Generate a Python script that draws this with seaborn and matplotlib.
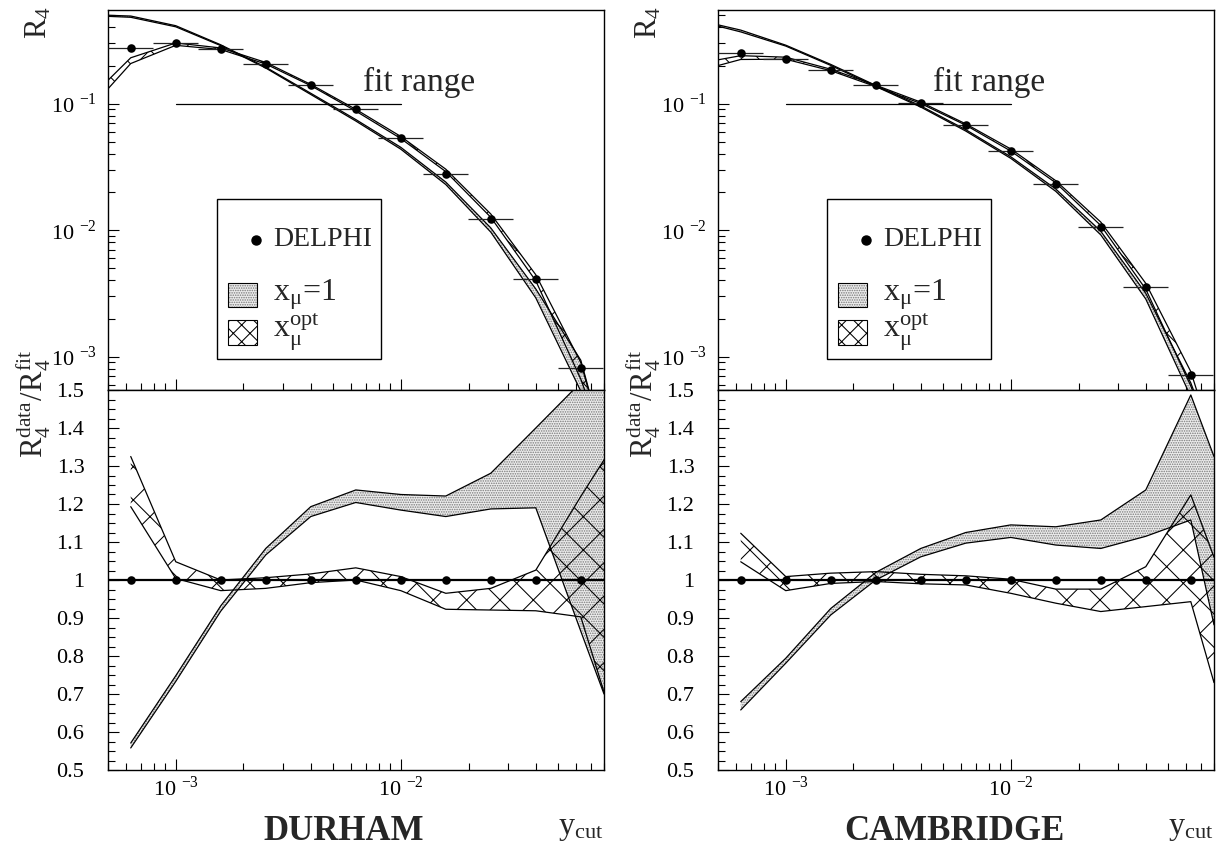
import numpy as np
import matplotlib
matplotlib.use('Agg')
import matplotlib.pyplot as plt
import matplotlib.ticker as mticker
from matplotlib.patches import Rectangle
import seaborn as sns

sns.set_theme(style='ticks')
plt.rcParams['font.family'] = ['Liberation Serif', 'DejaVu Serif']
plt.rcParams['mathtext.fontset'] = 'stix'
plt.rcParams['hatch.linewidth'] = 0.75

# y_cut bin centres and bin edges (shared by both algorithms)
ycut = [6.31e-4, 1.0e-3, 1.585e-3, 2.512e-3, 3.981e-3, 6.31e-3,
        1.0e-2, 1.585e-2, 2.512e-2, 3.981e-2, 6.31e-2]
bin_lo = [5.01e-4, 7.94e-4, 1.259e-3, 1.995e-3, 3.162e-3, 5.012e-3,
          7.943e-3, 1.259e-2, 1.995e-2, 3.162e-2, 5.012e-2]
bin_hi = [7.94e-4, 1.259e-3, 1.995e-3, 3.162e-3, 5.012e-3, 7.943e-3,
          1.259e-2, 1.995e-2, 3.162e-2, 5.012e-2, 7.943e-2]
x_left = 5.0e-4
x_right = 8.0e-2
ratio_data = [1.0] * 11

# DURHAM: measured R4 and ratio bands (11 bins + right frame edge)
dur_r4 = [0.275, 0.303, 0.268, 0.207, 0.141, 0.0902, 0.0535, 0.0280, 0.01236, 0.00408, 0.00081]
dur_mu1_lo = [0.558, 0.733, 0.918, 1.066, 1.167, 1.204, 1.184, 1.167, 1.187, 1.19, 0.865, 0.70]
dur_mu1_hi = [0.571, 0.748, 0.932, 1.083, 1.193, 1.237, 1.225, 1.221, 1.281, 1.40, 1.52, 1.60]
dur_opt_lo = [1.193, 1.004, 0.972, 0.978, 0.993, 1.0, 0.972, 0.923, 0.921, 0.919, 0.903, 0.705]
dur_opt_hi = [1.325, 1.048, 1.0, 1.006, 1.016, 1.032, 1.009, 0.965, 0.978, 1.026, 1.22, 1.316]
dur_mu1_left = [0.49, 0.50]
dur_opt_left = [0.131, 0.153]

# CAMBRIDGE
cam_r4 = [0.251, 0.2265, 0.1855, 0.1394, 0.1018, 0.0683, 0.0423, 0.0231, 0.01062, 0.00353, 0.000718]
cam_mu1_lo = [0.658, 0.781, 0.908, 1.0, 1.061, 1.097, 1.112, 1.092, 1.083, 1.115, 1.158, 0.882]
cam_mu1_hi = [0.680, 0.794, 0.925, 1.02, 1.083, 1.125, 1.145, 1.140, 1.158, 1.237, 1.487, 1.325]
cam_opt_lo = [1.048, 0.972, 0.991, 0.996, 0.99, 0.987, 0.965, 0.939, 0.917, 0.930, 0.943, 0.73]
cam_opt_hi = [1.123, 1.009, 1.018, 1.022, 1.015, 1.011, 1.002, 0.976, 0.976, 1.035, 1.224, 1.06]
cam_mu1_left = [0.41, 0.42]
cam_opt_left = [0.200, 0.222]

fit_below = 2.0e-4  # fit curves leave the frame below the bottom edge

panels = [
    ('DURHAM', 108, 6.8e-3, dur_r4, dur_mu1_lo, dur_mu1_hi, dur_opt_lo, dur_opt_hi, dur_mu1_left, dur_opt_left),
    ('CAMBRIDGE', 718, 4.5e-3, cam_r4, cam_mu1_lo, cam_mu1_hi, cam_opt_lo, cam_opt_hi, cam_mu1_left, cam_opt_left),
]

W, H = 1225, 848
fig = plt.figure(figsize=(W / 100, H / 100), dpi=100)

DOTS = '.......'
CROSS = 'x'


def band(ax, x, lo, hi, kind, z):
    if kind == 'dots':
        ax.fill_between(x, lo, hi, facecolor='#ececec', edgecolor='#7a7a7a', hatch=DOTS, lw=0, zorder=z)
    else:
        ax.fill_between(x, lo, hi, facecolor='none', edgecolor='black', hatch=CROSS, lw=0, zorder=z)
    ax.plot(x, lo, color='black', lw=0.9, zorder=z + 0.1)
    ax.plot(x, hi, color='black', lw=0.9, zorder=z + 0.1)


def style_axis(ax):
    for s in ax.spines.values():
        s.set_linewidth(1.0)
        s.set_color('black')
    ax.tick_params(which='both', direction='in', top=False, right=False, colors='black', labelsize=16)
    ax.tick_params(which='major', length=8, width=0.8)
    ax.tick_params(which='minor', length=5, width=0.8)


for name, left, fit_x, r4, m1lo, m1hi, oplo, ophi, m1left, opleft in panels:
    r4 = np.array(r4)
    ax_t = fig.add_axes([left / W, 1 - 390 / H, 496 / W, 380 / H])
    ax_b = fig.add_axes([left / W, 1 - 770 / H, 496 / W, 380 / H])

    # ---- top: R4 with fit curves ----
    x_fit = [x_left] + ycut + [x_right]
    mu1_fit_lo = [m1left[0]] + list(r4 / np.array(m1hi[:11])) + [fit_below]
    mu1_fit_hi = [m1left[1]] + list(r4 / np.array(m1lo[:11])) + [fit_below]
    opt_fit_lo = [opleft[0]] + list(r4 / np.array(ophi[:11])) + [fit_below]
    opt_fit_hi = [opleft[1]] + list(r4 / np.array(oplo[:11])) + [fit_below]
    band(ax_t, x_fit, mu1_fit_lo, mu1_fit_hi, 'dots', 1)
    band(ax_t, x_fit, opt_fit_lo, opt_fit_hi, 'cross', 2)

    xerr = [np.array(ycut) - np.array(bin_lo), np.array(bin_hi) - np.array(ycut)]
    ax_t.errorbar(ycut, r4, xerr=xerr, fmt='none', ecolor='#222222', elinewidth=0.9, capsize=0, zorder=3)
    sns.scatterplot(x=ycut, y=r4, ax=ax_t, color='black', s=38, linewidth=0, zorder=4, legend=False)

    ax_t.plot([1e-3, 1e-2], [0.1, 0.1], color='black', lw=0.9, zorder=3)
    ax_t.text(fit_x, 0.125, 'fit range', fontsize=24, va='baseline', ha='left', zorder=3)

    ax_t.set_xscale('log')
    ax_t.set_yscale('log')
    ax_t.set_xlim(x_left, x_right)
    ax_t.set_ylim(5.45e-4, 0.55)
    ax_t.set_yticks([1e-3, 1e-2, 1e-1])
    ax_t.set_yticklabels(['10 $^{\\mathregular{-3}}$', '10 $^{\\mathregular{-2}}$', '10 $^{\\mathregular{-1}}$'])
    ax_t.yaxis.set_minor_locator(mticker.LogLocator(base=10, subs=np.arange(2, 10), numticks=20))
    ax_t.yaxis.set_minor_formatter(mticker.NullFormatter())
    ax_t.set_xticks([1e-3, 1e-2])
    ax_t.xaxis.set_minor_locator(mticker.LogLocator(base=10, subs=np.arange(2, 10), numticks=20))
    ax_t.xaxis.set_major_formatter(mticker.NullFormatter())
    ax_t.xaxis.set_minor_formatter(mticker.NullFormatter())
    style_axis(ax_t)
    ax_t.tick_params(axis='y', pad=8)
    ax_t.set_ylabel('R$_{\\mathregular{4}}$', fontsize=22, loc='top')
    ax_t.yaxis.set_label_coords(-0.11, 1.01)

    # legend box
    tr = ax_t.transAxes
    ax_t.add_patch(Rectangle((0.219, 0.081), 0.331, 0.421, transform=tr, facecolor='white',
                             edgecolor='black', lw=1.0, zorder=6))
    ax_t.plot([0.298], [0.395], 'o', color='black', ms=6.5, transform=tr, zorder=7)
    ax_t.text(0.333, 0.395, 'DELPHI', transform=tr, va='center', ha='left', fontsize=20, zorder=7)
    ax_t.add_patch(Rectangle((0.242, 0.218), 0.058, 0.064, transform=tr, facecolor='#ececec',
                             edgecolor='#7a7a7a', hatch=DOTS, lw=0, zorder=7))
    ax_t.add_patch(Rectangle((0.242, 0.218), 0.058, 0.064, transform=tr, fill=False,
                             edgecolor='black', lw=0.8, zorder=7))
    ax_t.add_patch(Rectangle((0.242, 0.118), 0.058, 0.066, transform=tr, facecolor='white',
                             edgecolor='black', hatch='xx', lw=0.8, zorder=7))
    ax_t.text(0.333, 0.25, 'x$_{\\mathregular{μ}}$=1', transform=tr, va='center', ha='left', fontsize=23, zorder=7)
    ax_t.text(0.333, 0.153, 'x$_{\\mathregular{μ}}^{\\mathregular{opt}}$', transform=tr, va='center',
              ha='left', fontsize=23, zorder=7)

    # ---- bottom: ratio data / fit ----
    x_band = ycut + [x_right]
    band(ax_b, x_band, m1lo, m1hi, 'dots', 1)
    band(ax_b, x_band, oplo, ophi, 'cross', 2)
    ax_b.axhline(1.0, color='black', lw=1.6, zorder=3)
    sns.scatterplot(x=ycut, y=ratio_data, ax=ax_b, color='black', s=38, linewidth=0, zorder=4, legend=False)

    ax_b.set_xscale('log')
    ax_b.set_xlim(x_left, x_right)
    ax_b.set_ylim(0.5, 1.5)
    yt = np.round(np.arange(0.5, 1.51, 0.1), 1)
    ax_b.set_yticks(yt)
    ax_b.set_yticklabels([f'{v:g}' for v in yt])
    ax_b.yaxis.set_minor_locator(mticker.MultipleLocator(0.025))
    ax_b.set_xticks([1e-3, 1e-2])
    ax_b.set_xticklabels(['10 $^{\\mathregular{-3}}$', '10 $^{\\mathregular{-2}}$'])
    ax_b.xaxis.set_minor_locator(mticker.LogLocator(base=10, subs=np.arange(2, 10), numticks=20))
    ax_b.xaxis.set_minor_formatter(mticker.NullFormatter())
    style_axis(ax_b)
    ax_b.tick_params(axis='y', pad=17)
    ax_b.tick_params(axis='x', pad=5)
    ax_b.set_ylabel('R$_{\\mathregular{4}}^{\\mathregular{data}}$/R$_{\\mathregular{4}}^{\\mathregular{fit}}$',
                    fontsize=22, loc='top')
    ax_b.yaxis.set_label_coords(-0.11, 1.105)

    ax_b.text(1.0, -0.168, 'y$_{\\mathregular{cut}}$', transform=ax_b.transAxes, ha='right',
              va='baseline', fontsize=23)
    ax_b.text(0.476, -0.183, name, transform=ax_b.transAxes, ha='center', va='baseline',
              fontsize=25, fontweight='bold')

fig.savefig('out.png', dpi=100)
